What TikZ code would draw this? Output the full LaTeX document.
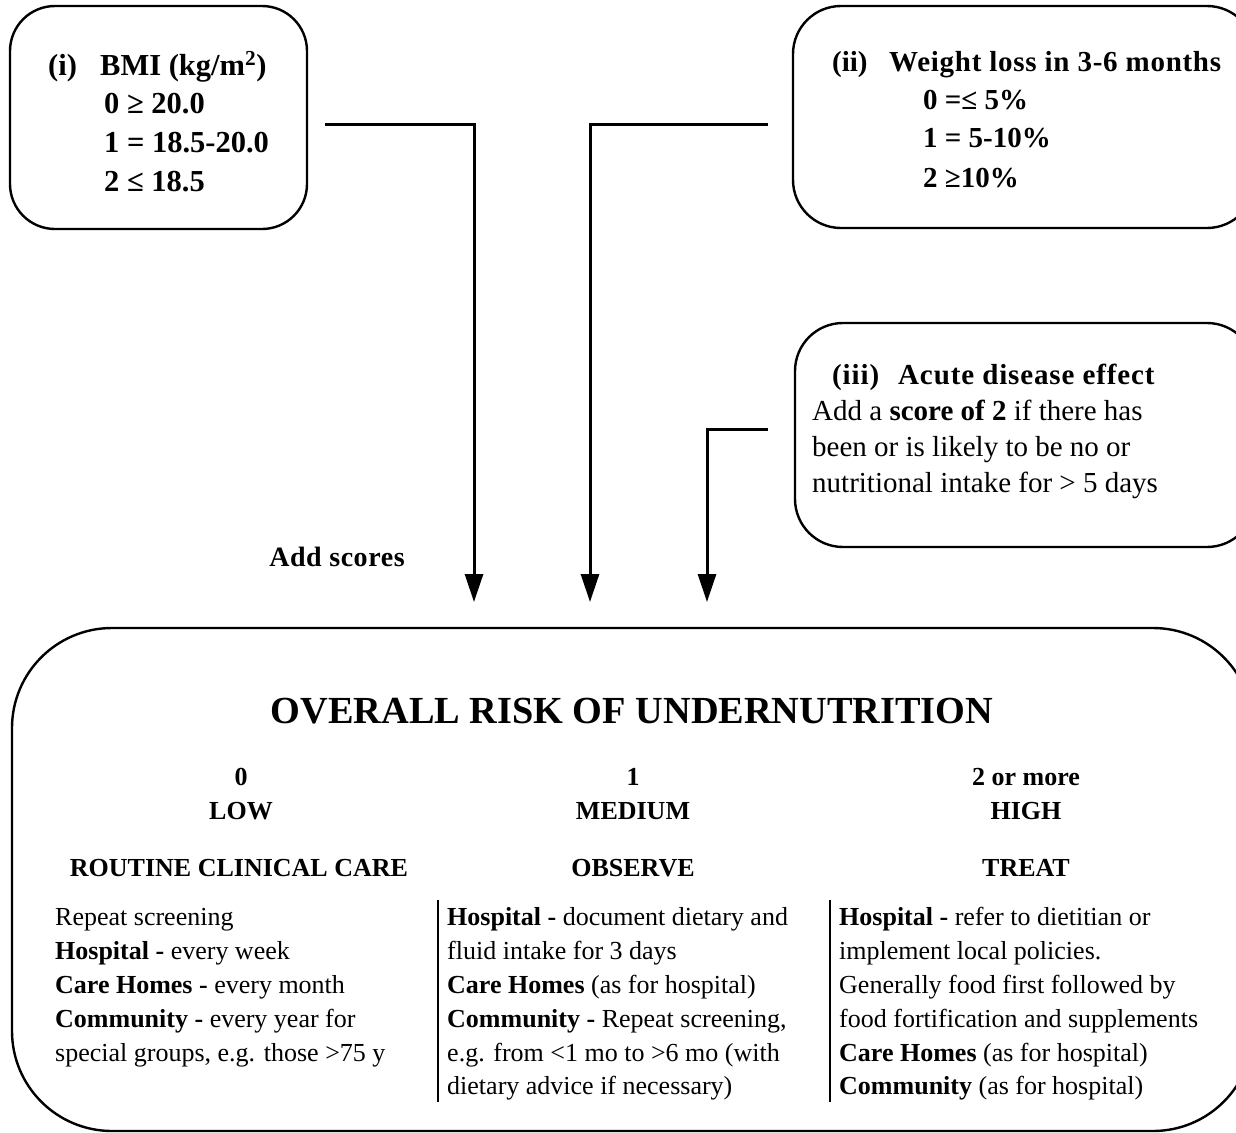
\documentclass[tikz,border=0pt]{standalone}
\usepackage{fontspec}
\setmainfont{Liberation Serif}
\usetikzlibrary{arrows.meta}
\tikzset{
  boxshape/.style={draw, line width=2.4pt, rounded corners=#1, inner sep=0pt},
  conn/.style={line width=3pt, -{Triangle[width=18pt,length=28pt]}},
  divider/.style={line width=2pt},
  bigtxt/.style={anchor=base west, inner sep=0pt, font=\fontsize{29}{36}\selectfont\bfseries},
  bmitxt/.style={anchor=base west, inner sep=0pt, font=\fontsize{30.5}{36}\selectfont\bfseries},
  regtxt/.style={anchor=base west, inner sep=0pt, font=\fontsize{29}{36}\selectfont},
  headtxt/.style={anchor=base, inner sep=0pt, font=\fontsize{26}{32}\selectfont\bfseries},
  bodytxt/.style={anchor=base west, inner sep=0pt, font=\fontsize{26}{33}\selectfont},
}
\begin{document}
\begin{tikzpicture}[x=1pt,y=-1pt]
\useasboundingbox (0,0) rectangle (1236,1132);
\clip (0,0) rectangle (1236,1132);

% boxes
\node[boxshape=45pt, minimum width=297pt, minimum height=223pt] (bmi) at (158.5,117.5) {};
\node[boxshape=48pt, minimum width=462pt, minimum height=222pt] (wl) at (1024,117) {};
\node[boxshape=48pt, minimum width=460pt, minimum height=224pt] (acute) at (1025,435) {};
\node[boxshape=100pt, minimum width=1241pt, minimum height=503pt] (risk) at (632.5,879.5) {};

% box (i)
\node[bmitxt] (i1) at (48,75) {(i)};
\node[bmitxt] (i2) at (100,75) {BMI (kg/m\textsuperscript{2})};
\node[bmitxt] (i3) at (104,113) {0 ≥ 20.0};
\node[bmitxt] (i4) at (104,152) {1 = 18.5-20.0};
\node[bmitxt] (i5) at (104,191) {2 ≤ 18.5};

% box (ii)
\node[bigtxt] (w1) at (832,71) {(ii)};
\node[bigtxt] (w2) at (889,71) {\addfontfeature{LetterSpace=2.5}Weight loss in 3-6 months};
\node[bigtxt] (w3) at (923,109) {0 =≤ 5\%};
\node[bigtxt] (w4) at (923,147) {1 = 5-10\%};
\node[bigtxt] (w5) at (923,187) {2 ≥10\%};

% box (iii)
\node[bigtxt] (a1) at (832,384) {\addfontfeature{LetterSpace=3}(iii)};
\node[bigtxt] (a2) at (898,384) {\addfontfeature{LetterSpace=3}Acute disease effect};
\node[regtxt] (a3) at (812,420) {Add a \textbf{score of 2} if there has};
\node[regtxt] (a4) at (812,456) {been or is likely to be no or};
\node[regtxt] (a5) at (812,492) {nutritional intake for > 5 days};

% connectors
\coordinate (s1) at (325,124);
\coordinate (e1) at (474,602);
\coordinate (s2) at (768,124);
\coordinate (e2) at (590,602);
\coordinate (s3) at (768,429);
\coordinate (e3) at (707,602);
\draw[conn] (s1) -| (e1);
\draw[conn] (s2) -| (e2);
\draw[conn] (s3) -| (e3);

\node[anchor=base, inner sep=0pt, font=\fontsize{28}{34}\selectfont\bfseries] (add) at (337,566) {\addfontfeature{LetterSpace=2}Add scores};

% overall risk
\node[anchor=base, inner sep=0pt, font=\fontsize{38.3}{44}\selectfont\bfseries] (title) at (632,723) {OVERALL RISK OF UNDERNUTRITION};

\node[headtxt] (l0) at (241,785) {0};
\node[headtxt] (l1) at (241,819) {LOW};
\node[headtxt] (l2) at (239,876) {ROUTINE CLINICAL CARE};
\node[headtxt] (m0) at (633,785) {1};
\node[headtxt] (m1) at (633,819) {MEDIUM};
\node[headtxt] (m2) at (633,876) {OBSERVE};
\node[headtxt] (h0) at (1026,785) {2 or more};
\node[headtxt] (h1) at (1026,819) {HIGH};
\node[headtxt] (h2) at (1026,876) {TREAT};

\draw[divider] (438,900) -- (438,1102);
\draw[divider] (830,900) -- (830,1102);

\node[bodytxt] (lb1) at (55,925) {Repeat screening};
\node[bodytxt] (lb2) at (55,959) {\textbf{Hospital -} every week};
\node[bodytxt] (lb3) at (55,993) {\textbf{Care Homes -} every month};
\node[bodytxt] (lb4) at (55,1027) {\textbf{Community -} every year for};
\node[bodytxt] (lb5) at (55,1061) {special groups, e.g. those >75 y};

\node[bodytxt] (mb1) at (447,925) {\textbf{Hospital -} document dietary and};
\node[bodytxt] (mb2) at (447,959) {fluid intake for 3 days};
\node[bodytxt] (mb3) at (447,993) {\textbf{Care Homes} (as for hospital)};
\node[bodytxt] (mb4) at (447,1027) {\textbf{Community -} Repeat screening,};
\node[bodytxt] (mb5) at (447,1061) {e.g. from <1 mo to >6 mo (with};
\node[bodytxt] (mb6) at (447,1094) {dietary advice if necessary)};

\node[bodytxt] (hb1) at (839,925) {\textbf{Hospital -} refer to dietitian or};
\node[bodytxt] (hb2) at (839,959) {implement local policies.};
\node[bodytxt] (hb3) at (839,993) {Generally food first followed by};
\node[bodytxt] (hb4) at (839,1027) {food fortification and supplements};
\node[bodytxt] (hb5) at (839,1061) {\textbf{Care Homes} (as for hospital)};
\node[bodytxt] (hb6) at (839,1094) {\textbf{Community} (as for hospital)};
\end{tikzpicture}
\end{document}
